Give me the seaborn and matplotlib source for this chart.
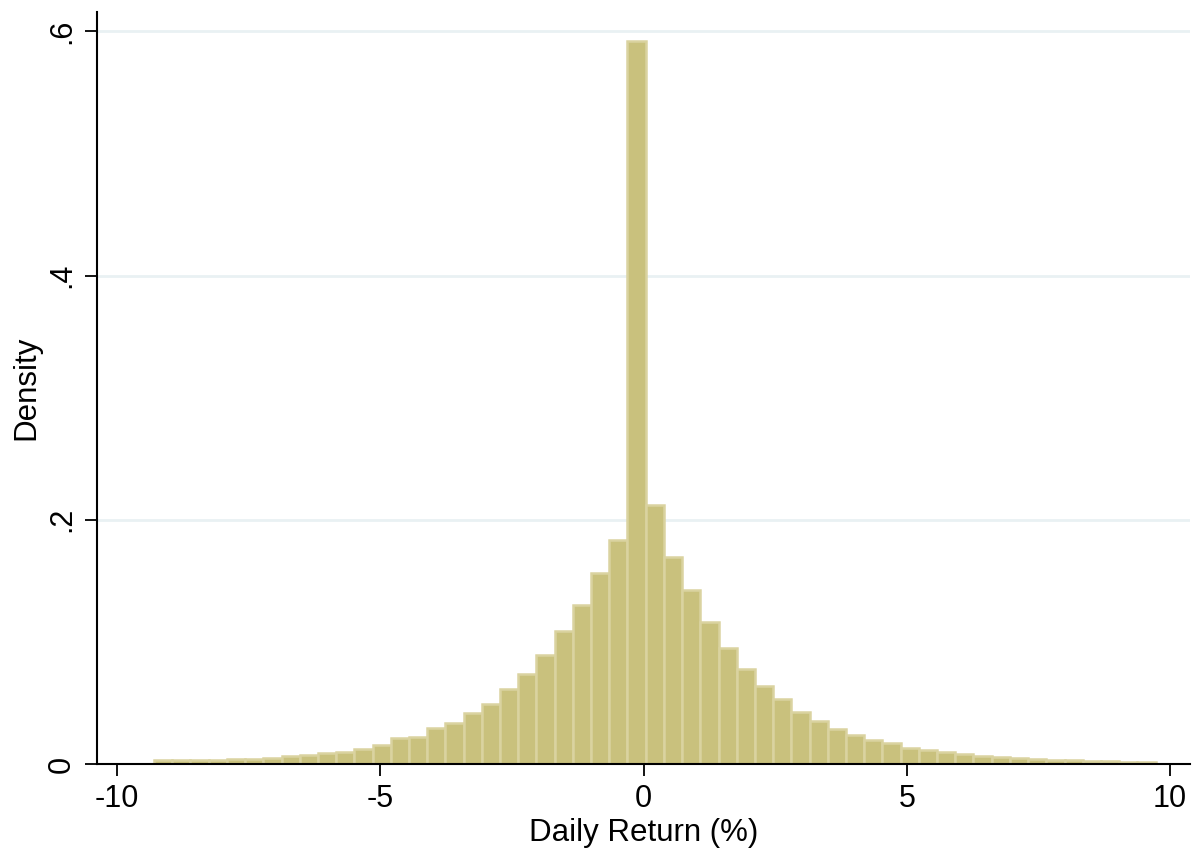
import numpy as np
import pandas as pd
import matplotlib
matplotlib.use("Agg")
import matplotlib.pyplot as plt
import seaborn as sns

# bin range (55 equal bins)
bin_lo = -9.297
bin_hi = 9.724
n_bins = 55

# bar heights (density), left to right
density = [
    0.0030, 0.0030, 0.0037, 0.0037, 0.0045, 0.0043, 0.0053, 0.0065, 0.0076, 0.0088,
    0.0103, 0.0127, 0.0153, 0.0216, 0.0226, 0.0292, 0.0336, 0.0416, 0.0494, 0.0617,
    0.0740, 0.0895, 0.1092, 0.1305, 0.1567, 0.1838, 0.5922, 0.2123, 0.1697, 0.1422,
    0.1166, 0.0953, 0.0780, 0.0643, 0.0535, 0.0427, 0.0353, 0.0288, 0.0238, 0.0198,
    0.0173, 0.0134, 0.0117, 0.0101, 0.0084, 0.0068, 0.0059, 0.0051, 0.0043, 0.0035,
    0.0035, 0.0027, 0.0027, 0.0020, 0.0020,
]

x_ticks = [-10, -5, 0, 5, 10]
y_ticks = [0, 0.2, 0.4, 0.6]
y_tick_labels = ["0", ".2", ".4", ".6"]

edges = np.linspace(bin_lo, bin_hi, n_bins + 1)
mids = (edges[:-1] + edges[1:]) / 2
df = pd.DataFrame({"ret": mids, "dens": density})

sns.set_style("white")
plt.rcParams["font.family"] = ["Liberation Sans", "DejaVu Sans"]
plt.rcParams["text.color"] = "black"
plt.rcParams["axes.labelcolor"] = "black"
plt.rcParams["xtick.color"] = "black"
plt.rcParams["ytick.color"] = "black"

fig = plt.figure(figsize=(11.92, 8.49), dpi=100)
ax = fig.add_axes([0.0814, 0.1, 0.917, 0.886])

sns.histplot(data=df, x="ret", weights="dens", bins=edges.tolist(), ax=ax,
             color="#c9c17d", edgecolor="#dad3a0", linewidth=1.8, alpha=1)

ax.set_xlim(-10.38, 10.38)
ax.set_ylim(0, 0.616)
ax.set_xticks(x_ticks)
ax.set_xticklabels([str(t) for t in x_ticks])
ax.set_yticks(y_ticks)
ax.set_yticklabels(y_tick_labels, rotation=90, va="center")

ax.set_axisbelow(True)
ax.yaxis.grid(True, color="#e9f1f3", linewidth=2)
ax.xaxis.grid(False)

for s in ["top", "right"]:
    ax.spines[s].set_visible(False)
for s in ["left", "bottom"]:
    ax.spines[s].set_color("black")
    ax.spines[s].set_linewidth(1.5)

ax.tick_params(axis="both", direction="out", length=8.5, width=1.3, colors="black",
               labelsize=22, pad=6, left=True, bottom=True)
ax.set_xlabel("Daily Return (%)", fontsize=22.5, labelpad=3)
ax.set_ylabel("Density", fontsize=22.5, labelpad=4)

fig.savefig("out.png", dpi=100)
